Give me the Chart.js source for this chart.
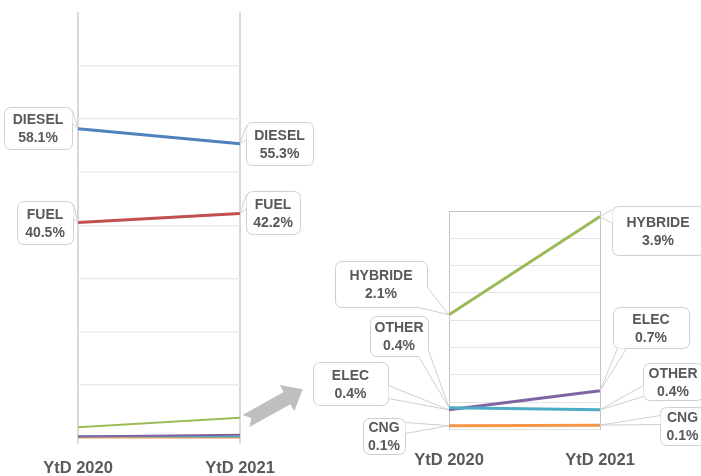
<!DOCTYPE html>
<html>
<head>
<meta charset="utf-8">
<script src="https://cdn.jsdelivr.net/npm/chart.js@4.4.1/dist/chart.umd.min.js"></script>
<style>
html,body{margin:0;padding:0;background:#fff;overflow:hidden;width:701px;height:476px}
canvas{position:absolute;left:0;top:0}
</style>
</head>
<body>
<canvas id="leftChart" width="701" height="520"></canvas>
<canvas id="rightChart" width="701" height="520"></canvas>
<script>
// ---- data ----
const categories = ['YtD 2020', 'YtD 2021'];
const seriesNames = ['DIESEL', 'FUEL', 'HYBRIDE', 'ELEC', 'OTHER', 'CNG'];
const diesel  = [58.1, 55.3];
const fuel    = [40.5, 42.2];
const hybride = [2.1, 3.9];
const elec    = [0.36, 0.71];
const other   = [0.40, 0.36];
const cng     = [0.07, 0.08];
const leftAxisRange  = [0, 80, 10];   // min, max, step
const rightAxisRange = [0, 4, 0.5];

const seriesValues = { DIESEL: diesel, FUEL: fuel, HYBRIDE: hybride, ELEC: elec, OTHER: other, CNG: cng };

// ---- styles ----
const colors = { DIESEL: '#4F81BD', FUEL: '#C0504D', HYBRIDE: '#9BBB59', ELEC: '#8064A2', OTHER: '#4BACC6', CNG: '#F79646' };
const textColor = '#595959';
const fontFamily = '"Liberation Sans", Arial, sans-serif';

// callout layout (box: x, y, w, h ; base: two points where the pointer leaves the box)
const leftCallouts = [
  { s: 'DIESEL', i: 0, box: [4, 107, 68, 42],  base: [[72, 110], [72, 123]] },
  { s: 'DIESEL', i: 1, box: [246, 122, 67, 43], base: [[246, 125], [246, 139]] },
  { s: 'FUEL',   i: 0, box: [17, 201, 56, 43],  base: [[73, 204], [73, 218]] },
  { s: 'FUEL',   i: 1, box: [246, 191, 54, 43], base: [[246, 194], [246, 208]] }
];
const rightCallouts = [
  { s: 'HYBRIDE', i: 0, box: [335, 261, 92, 46], base: [[427, 287], [418, 307]] },
  { s: 'HYBRIDE', i: 1, box: [612, 206, 92, 49], base: [[612, 209], [612, 223]] },
  { s: 'OTHER',   i: 0, box: [370, 316, 58, 40], base: [[418, 356], [428, 350]] },
  { s: 'ELEC',    i: 0, box: [313, 362, 75, 43], base: [[388, 385], [388, 398]] },
  { s: 'CNG',     i: 0, box: [363, 418, 42, 36], base: [[405, 422], [405, 433]] },
  { s: 'ELEC',    i: 1, box: [613, 307, 76, 41], base: [[617, 348], [626, 348]] },
  { s: 'OTHER',   i: 1, box: [643, 363, 60, 37], base: [[643, 385], [643, 396]] },
  { s: 'CNG',     i: 1, box: [660, 407, 45, 38], base: [[660, 415], [660, 424]] }
];

function roundRectPath(ctx, x, y, w, h, r) {
  ctx.beginPath();
  ctx.moveTo(x + r, y);
  ctx.lineTo(x + w - r, y);
  ctx.quadraticCurveTo(x + w, y, x + w, y + r);
  ctx.lineTo(x + w, y + h - r);
  ctx.quadraticCurveTo(x + w, y + h, x + w - r, y + h);
  ctx.lineTo(x + r, y + h);
  ctx.quadraticCurveTo(x, y + h, x, y + h - r);
  ctx.lineTo(x, y + r);
  ctx.quadraticCurveTo(x, y, x + r, y);
  ctx.closePath();
}

function makeCalloutPlugin(items) {
  return {
    id: 'callouts',
    afterDatasetsDraw(chart) {
      const ctx = chart.ctx;
      ctx.save();
      for (const c of items) {
        const dsIndex = chart.data.datasets.findIndex(d => d.label === c.s);
        const pt = chart.getDatasetMeta(dsIndex).data[c.i];
        const tx = pt.x, ty = pt.y;
        const [bx, by, bw, bh] = c.box;
        const [b1, b2] = c.base;
        ctx.lineWidth = 1;
        ctx.strokeStyle = '#cfcfcf';
        ctx.fillStyle = '#ffffff';
        roundRectPath(ctx, bx + 0.5, by + 0.5, bw, bh, 7);
        ctx.fill();
        ctx.stroke();
        // pointer wedge
        ctx.beginPath();
        ctx.moveTo(b1[0] + 0.5, b1[1] + 0.5);
        ctx.lineTo(tx, ty);
        ctx.lineTo(b2[0] + 0.5, b2[1] + 0.5);
        ctx.closePath();
        ctx.fill();
        ctx.beginPath();
        ctx.moveTo(b1[0] + 0.5, b1[1] + 0.5);
        ctx.lineTo(tx, ty);
        ctx.lineTo(b2[0] + 0.5, b2[1] + 0.5);
        ctx.stroke();
        // text
        const cx = bx + bw / 2, cy = by + bh / 2;
        ctx.fillStyle = textColor;
        ctx.font = 'bold 14px ' + fontFamily;
        ctx.textAlign = 'center';
        ctx.textBaseline = 'alphabetic';
        ctx.fillText(c.s, cx, cy - 9 + 5);
        ctx.fillText(seriesValues[c.s][c.i].toFixed(1) + '%', cx, cy + 9 + 5);
      }
      ctx.restore();
    }
  };
}

const arrowPlugin = {
  id: 'arrow',
  afterDraw(chart) {
    const ctx = chart.ctx;
    ctx.save();
    ctx.translate(246, 421);
    ctx.rotate(Math.atan2(389.3 - 421, 302.7 - 246));
    const L = 65, w = 7, hw = 15, hl = 18, notch = 6;
    ctx.beginPath();
    ctx.moveTo(0, -w);
    ctx.lineTo(L - hl, -w);
    ctx.lineTo(L - hl, -hw);
    ctx.lineTo(L, 0);
    ctx.lineTo(L - hl, hw);
    ctx.lineTo(L - hl, w);
    ctx.lineTo(0, w);
    ctx.lineTo(notch, 0);
    ctx.closePath();
    ctx.fillStyle = '#bfbfbf';
    ctx.fill();
    ctx.restore();
  }
};

function makeDataset(name, width) {
  return {
    label: name,
    data: seriesValues[name],
    borderColor: colors[name],
    backgroundColor: colors[name],
    borderWidth: width,
    pointRadius: 0,
    tension: 0,
    fill: false
  };
}

const tickFont = { family: fontFamily, size: 16.5, weight: 'bold', lineHeight: 1.2 };

// ---- left chart (full scale) ----
new Chart(document.getElementById('leftChart'), {
  type: 'line',
  data: {
    labels: categories,
    datasets: [
      makeDataset('DIESEL', 3),
      makeDataset('FUEL', 3),
      makeDataset('HYBRIDE', 2),
      makeDataset('ELEC', 2),
      makeDataset('OTHER', 2),
      makeDataset('CNG', 2)
    ]
  },
  options: {
    responsive: false,
    animation: false,
    layout: { padding: { left: 78, right: 461, top: 12, bottom: 26.7 } },
    plugins: { legend: { display: false }, tooltip: { enabled: false } },
    scales: {
      x: {
        type: 'category',
        offset: false,
        border: { display: false },
        grid: { color: '#d9d9d9', lineWidth: 2, drawTicks: true, tickLength: 5 },
        ticks: { color: textColor, font: tickFont, padding: 15, maxRotation: 0, autoSkip: false }
      },
      y: {
        min: leftAxisRange[0], max: leftAxisRange[1],
        border: { display: false },
        ticks: { display: false, stepSize: leftAxisRange[2] },
        grid: {
          drawTicks: false,
          lineWidth: 1.5,
          color: (c) => (c.tick && (c.tick.value === leftAxisRange[0] || c.tick.value === leftAxisRange[1])) ? 'rgba(0,0,0,0)' : '#ebebeb'
        }
      }
    }
  },
  plugins: [makeCalloutPlugin(leftCallouts), arrowPlugin]
});

// ---- right chart (zoomed scale) ----
new Chart(document.getElementById('rightChart'), {
  type: 'line',
  data: {
    labels: categories,
    datasets: [
      makeDataset('HYBRIDE', 3),
      makeDataset('OTHER', 3),
      makeDataset('ELEC', 3),
      makeDataset('CNG', 3)
    ]
  },
  options: {
    responsive: false,
    animation: false,
    layout: { padding: { left: 449, right: 101, top: 211, bottom: 28.7 } },
    plugins: { legend: { display: false }, tooltip: { enabled: false } },
    scales: {
      x: {
        type: 'category',
        offset: false,
        border: { display: false },
        grid: { color: '#c4c4c4', lineWidth: 1, drawTicks: false },
        ticks: { color: textColor, font: tickFont, padding: 21, maxRotation: 0, autoSkip: false }
      },
      y: {
        min: rightAxisRange[0], max: rightAxisRange[1],
        border: { display: false },
        ticks: { display: false, stepSize: rightAxisRange[2] },
        grid: {
          drawTicks: false,
          lineWidth: 1,
          color: (c) => (c.tick && c.tick.value === rightAxisRange[1]) ? '#c4c4c4' : '#e3e3e3'
        }
      }
    }
  },
  plugins: [makeCalloutPlugin(rightCallouts)]
});
</script>
</body>
</html>
